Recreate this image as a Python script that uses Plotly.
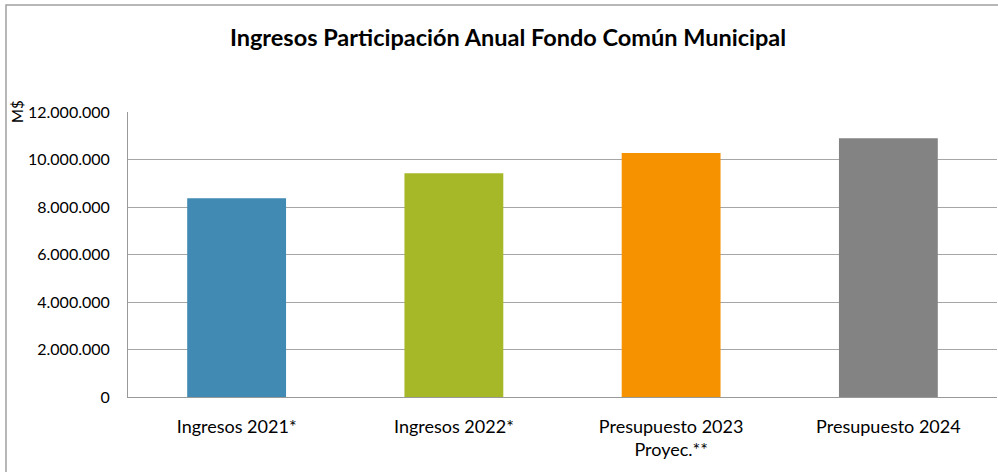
import plotly.graph_objects as go

categories = ["Ingresos 2021*", "Ingresos 2022*", "Presupuesto 2023<br>Proyec.**", "Presupuesto 2024"]
values = [8370000, 9420000, 10270000, 10900000]
colors = ["#418AB3", "#A6B727", "#F69200", "#838383"]
tick_vals = [0, 2000000, 4000000, 6000000, 8000000, 10000000, 12000000]
tick_text = ["0", "2.000.000", "4.000.000", "6.000.000", "8.000.000", "10.000.000", "12.000.000"]

W, H = 998, 472
L, R, T, B = 128, 1, 112, 75
pw, ph = W - L - R, H - T - B
FONT = "Lato, Liberation Sans, Arial, sans-serif"

def px_x(x):
    return (x - L) / pw

def px_y(y):
    return (H - B - y) / ph

fig = go.Figure(go.Bar(x=categories, y=values, marker_color=colors, marker_line_width=0, width=0.455))

fig.update_layout(
    width=W, height=H,
    margin=dict(l=L, r=R, t=T, b=B),
    paper_bgcolor="white", plot_bgcolor="white",
    font=dict(family=FONT, size=16, color="#000000"),
    title=dict(text="<b>Ingresos Participación Anual Fondo Común Municipal</b>",
               x=508 / W, xanchor="center", y=1 - 38 / H, yanchor="middle",
               font=dict(size=23.5, color="#000000")),
    showlegend=False,
    xaxis=dict(showline=True, linecolor="#999999", linewidth=1, ticks="", showgrid=False,
               tickfont=dict(size=18), ticklabelstandoff=13),
    yaxis=dict(range=[0, 12000000], tickvals=tick_vals, ticktext=tick_text,
               showgrid=True, gridcolor="#A6A6A6", gridwidth=1,
               showline=True, linecolor="#999999", linewidth=1, ticks="",
               tickfont=dict(size=16), zeroline=False, ticklabelstandoff=14),
    shapes=[dict(type="rect", xref="paper", yref="paper",
                 x0=px_x(6), x1=px_x(1010), y0=px_y(490), y1=px_y(5),
                 line=dict(color="#A0A0A0", width=1.5), fillcolor="rgba(0,0,0,0)", layer="below")],
    annotations=[dict(text="M$", textangle=-90, xref="paper", yref="paper",
                      x=px_x(17), y=px_y(111), xanchor="center", yanchor="middle",
                      showarrow=False, font=dict(size=15))],
)

fig.write_html("out.html", config={"displayModeBar": False},
               post_script="document.body.style.margin='0px';")
